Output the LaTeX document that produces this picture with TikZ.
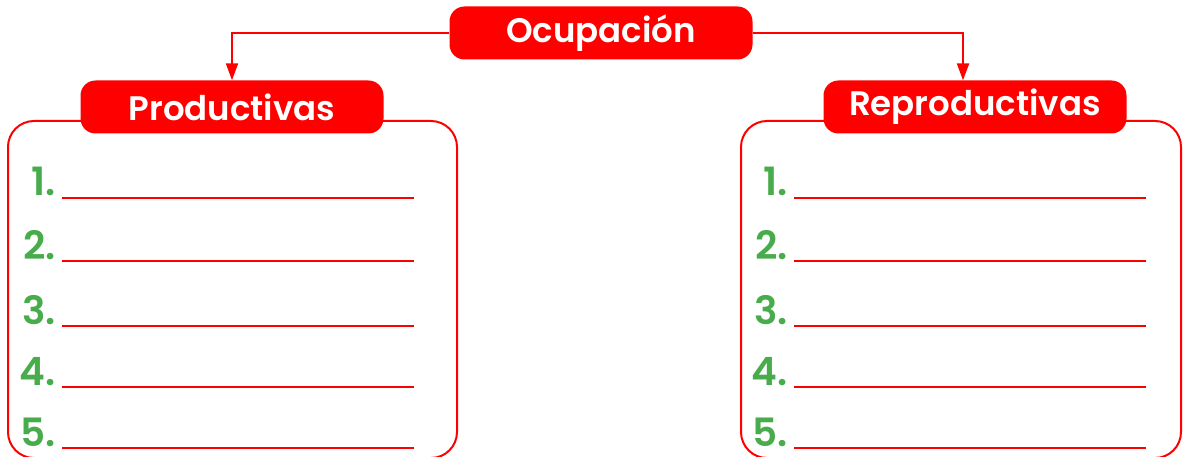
\documentclass[tikz,border=0pt]{standalone}
\usepackage{fontspec}
\setmainfont{Poppins}
\newfontfamily\semifont{Poppins SemiBold}
\usetikzlibrary{arrows.meta}
\definecolor{ocred}{RGB}{255,0,0}
\definecolor{ocgreen}{RGB}{72,172,76}
\begin{document}
\begin{tikzpicture}[x=1pt,y=-1pt,
  tab/.style={fill=ocred,text=white,rounded corners=15pt,minimum height=53pt,inner sep=0pt,font=\semifont\fontsize{34}{34}\selectfont},
  listframe/.style={draw=ocred,line width=2pt,rounded corners=26pt},
  num/.style={text=ocgreen,anchor=base east,inner sep=0pt,font=\semifont\fontsize{39}{39}\selectfont},
  blank/.style={ocred,line width=2.4pt},
  link/.style={ocred,line width=2.2pt,-{Triangle[length=17pt,width=12pt]}}]
\useasboundingbox (0,0) rectangle (1183,457);
\draw[listframe] (8,121) rectangle (457,458);
\draw[listframe] (741,121) rectangle (1181,458);
\node[tab,minimum width=303pt] (ocup) at (601,33) {Ocupación};
\node[tab,minimum width=303pt] (prod) at (232,107) {Productivas};
\node[tab,minimum width=303pt] (repr) at (975,107) {Reproductivas};
\draw[link] (ocup.west) -| (prod.north);
\draw[link] (ocup.east) -| ([xshift=-12pt]repr.north);
\foreach \n/\y in {1/198,2/261,3/326,4/387,5/448}{
  \node[num] (l\n) at (56,\y-2) {\n.};
  \node[num] (r\n) at (788,\y-2) {\n.};
  \draw[blank] (62,\y) -- (414,\y);
  \draw[blank] (794,\y) -- (1146,\y);
}
\end{tikzpicture}
\end{document}
